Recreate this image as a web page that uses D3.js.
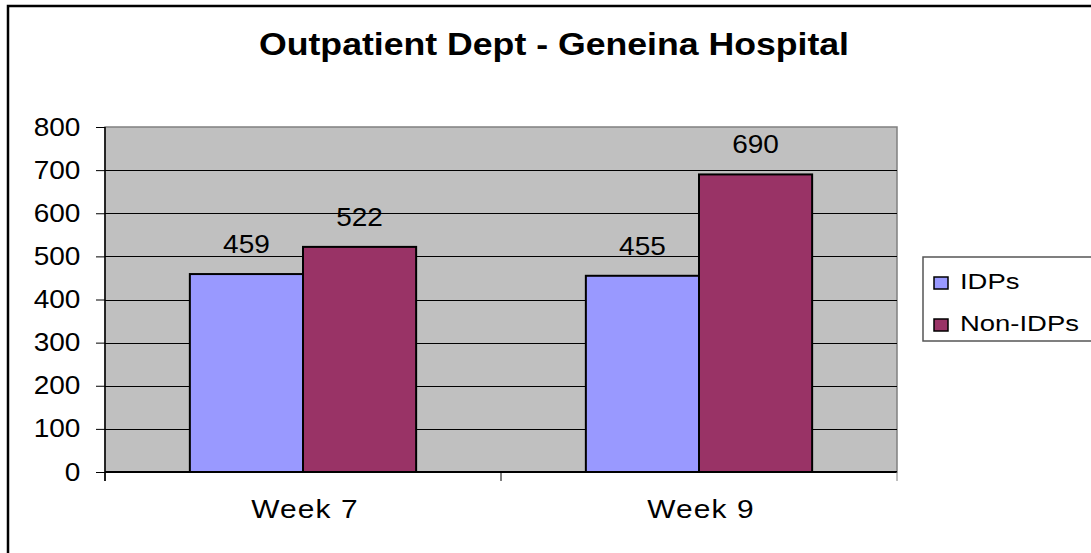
<!DOCTYPE html>
<meta charset="utf-8">
<style>
    body { margin: 0; background: #fff; }
    svg { display: block; font-family: "Liberation Sans", Arial, sans-serif; }
</style>
<svg width="1091" height="553"></svg>
<script src="https://d3js.org/d3.v7.min.js"></script>
<script>

    var svg = d3.select("svg");

    var weeks = ["Week 7", "Week 9"];
    var series = ["IDPs", "Non-IDPs"];
    var idps = [459, 455];
    var nonIdps = [522, 690];
    var yTicks = [0, 100, 200, 300, 400, 500, 600, 700, 800];
    var colors = ["#9999FF", "#993366"];

    var values = [idps, nonIdps];

    var plotL = 105, plotR = 897, plotT = 127, plotB = 472;

    // the original renders text a little wider than it is tall
    function wideText(parent, x, y, sx) {
        return parent.append("g")
            .attr("transform", "translate(" + x + "," + y + ") scale(" + sx + ",1)")
            .append("text");
    }

    // outer chart frame
    svg.append("rect")
        .attr("x", 8).attr("y", 6)
        .attr("width", 1100).attr("height", 600)
        .attr("fill", "none")
        .attr("stroke", "#000")
        .attr("stroke-width", 2.5);

    wideText(svg, 554, 55, 1.15)
        .attr("text-anchor", "middle")
        .attr("font-weight", "bold")
        .attr("font-size", 31)
        .text("Outpatient Dept - Geneina Hospital");

    var x0 = d3.scaleBand()
        .domain(weeks)
        .range([plotL, plotR]);

    // gap width 150% like the spreadsheet default
    var barW = x0.bandwidth() / 3.5;

    var y = d3.scaleLinear()
        .domain([0, 800])
        .range([plotB, plotT]);

    // plot area
    svg.append("rect")
        .attr("x", plotL).attr("y", plotT)
        .attr("width", plotR - plotL).attr("height", plotB - plotT)
        .attr("fill", "#C0C0C0")
        .attr("stroke", "#808080")
        .attr("stroke-width", 1.5);

    svg.append("g")
        .selectAll("line")
        .data(yTicks.slice(1, -1))
        .enter().append("line")
        .attr("x1", plotL).attr("x2", plotR)
        .attr("y1", function (d) { return Math.round(y(d)) + 0.5; })
        .attr("y2", function (d) { return Math.round(y(d)) + 0.5; })
        .attr("stroke", "#000");

    var yAxis = svg.append("g")
        .attr("transform", "translate(" + plotL + ",0)")
        .call(d3.axisLeft(y).tickValues(yTicks).tickSize(9).tickPadding(13));
    yAxis.selectAll("text")
        .attr("font-size", 25).attr("fill", "#000")
        .attr("font-family", "Liberation Sans, Arial, sans-serif")
        .attr("transform", "scale(1.12,1)");
    yAxis.selectAll("line").attr("stroke", "#000");
    yAxis.select(".domain").attr("d", "M0," + plotT + "V" + (plotB + 9))
        .attr("stroke", "#000").attr("stroke-width", 1.5);

    // bars
    var bars = svg.append("g");
    series.forEach(function (s, si) {
        weeks.forEach(function (w, i) {
            var bx = x0(w) + (x0.bandwidth() - 2 * barW) / 2 + si * barW;
            bars.append("rect")
                .attr("x", bx)
                .attr("y", y(values[si][i]))
                .attr("width", barW)
                .attr("height", plotB - y(values[si][i]))
                .attr("fill", colors[si])
                .attr("stroke", "#000")
                .attr("stroke-width", 2);

            wideText(bars, bx + barW / 2, y(values[si][i]) - 21, 1.12)
                .attr("text-anchor", "middle")
                .attr("font-size", 25)
                .text(values[si][i]);
        });
    });

    // x axis
    var xAxis = svg.append("g")
        .attr("transform", "translate(0," + plotB + ")");
    xAxis.append("line")
        .attr("x1", plotL).attr("x2", plotR)
        .attr("stroke", "#000").attr("stroke-width", 2);
    xAxis.selectAll(".tk")
        .data([plotL, x0(weeks[1]), plotR])
        .enter().append("line")
        .attr("x1", function (d) { return d; }).attr("x2", function (d) { return d; })
        .attr("y1", 0).attr("y2", 9)
        .attr("stroke", function (d, i) { return i == 2 ? "#808080" : "#000"; });
    weeks.forEach(function (w) {
        wideText(xAxis, x0(w) + x0.bandwidth() / 2 + 2, 46, 1.15)
            .attr("text-anchor", "middle")
            .attr("font-size", 26)
            .attr("letter-spacing", 1)
            .text(w);
    });

    // legend
    var legend = svg.append("g");
    legend.append("rect")
        .attr("x", 923).attr("y", 257)
        .attr("width", 200).attr("height", 84)
        .attr("fill", "#fff")
        .attr("stroke", "#555").attr("stroke-width", 1.5);

    series.forEach(function (s, i) {
        legend.append("rect")
            .attr("x", 934).attr("y", 277 + i * 42)
            .attr("width", 14).attr("height", 12)
            .attr("fill", colors[i])
            .attr("stroke", "#000").attr("stroke-width", 1.5);
        wideText(legend, 960, 289 + i * 42, 1.22)
            .attr("font-size", 22.5)
            .text(s);
    });

</script>
